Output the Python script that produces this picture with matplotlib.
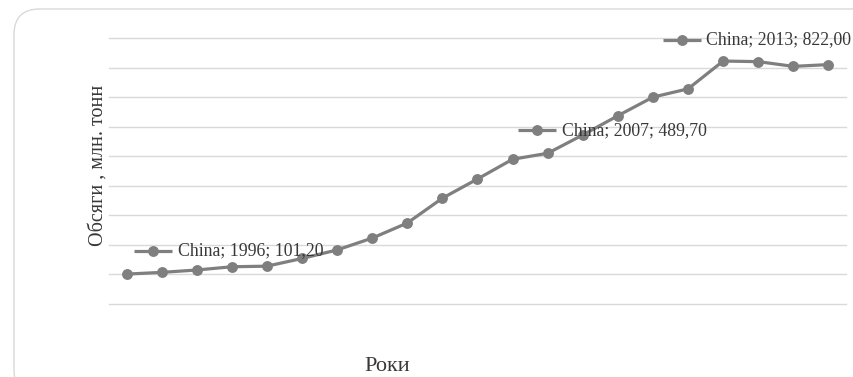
import matplotlib
matplotlib.use("Agg")
import matplotlib.pyplot as plt
from matplotlib.patches import FancyBboxPatch
from matplotlib.transforms import ScaledTranslation

# ---------------- дані ----------------
years = list(range(1996, 2017))
volumes = [101.2, 107, 115, 126, 128, 154, 183, 223, 274, 358, 423,
           489.7, 510, 572, 637, 700, 728, 822.0, 820, 804, 810]
series_name = "China"
labelled_years = [1996, 2007, 2013]
# зсуви підписів (в пунктах): центр значка, початок тексту
label_key_dx = [18.7, 17.3, -29.5]
label_dy = [16.6, 20.9, 15.1]
label_text_dx = [37.4, 35.3, -12.2]

line_color = "#7f7f7f"
grid_color = "#d9d9d9"
text_color = "#383838"
font = "Liberation Serif"

fig = plt.figure(figsize=(8.54, 3.77), dpi=100)
fig.patch.set_facecolor("white")

# рамка-картка з заокругленими кутами
card = FancyBboxPatch((14 / 854, -0.05), 1.1, 1 - 9 / 377 + 0.05,
                      boxstyle="round,pad=0,rounding_size=0.03",
                      transform=fig.transFigure, facecolor="none",
                      edgecolor="#d9d9d9", linewidth=1.0,
                      mutation_aspect=854 / 377, zorder=-1)
fig.patches.append(card)

ax = fig.add_axes([109 / 854, 1 - 304 / 377, 737 / 854, 266 / 377])
ax.set_facecolor("none")

x = list(range(len(years)))
ax.plot(x, volumes, color=line_color, lw=2.3, marker="o", ms=6.8,
        solid_capstyle="round", zorder=3)

ax.set_xlim(-0.5, len(years) - 0.5)
ax.set_ylim(0, 900)
ax.set_yticks(range(0, 1000, 100))
ax.set_xticks([])
ax.tick_params(left=False, labelleft=False)
ax.grid(axis="y", color=grid_color, lw=1.0)
for gl in ax.get_ygridlines():
    gl.set_clip_on(False)
ax.set_axisbelow(True)
for s in ax.spines.values():
    s.set_visible(False)

# підписи даних зі значком легенди
for yr, kdx, dy, tdx in zip(labelled_years, label_key_dx, label_dy, label_text_dx):
    i = years.index(yr)
    v = volumes[i]
    tr = ax.transData + ScaledTranslation(kdx / 72, dy / 72, fig.dpi_scale_trans)
    ax.plot([x[i]], [v], transform=tr, marker="_", ms=27, mew=2.3,
            color=line_color, zorder=4, clip_on=False)
    ax.plot([x[i]], [v], transform=tr, marker="o", ms=6.8,
            color=line_color, zorder=4, clip_on=False)
    txt = f"{series_name}; {yr}; {v:.2f}".replace(".", ",")
    ax.annotate(txt, xy=(x[i], v), xytext=(tdx, dy), textcoords="offset points",
                ha="left", va="center", fontsize=12.8, family=font,
                color=text_color, zorder=5, annotation_clip=False)

ax.set_ylabel("Обсяги , млн. тонн", family=font, fontsize=14.5, color=text_color)
ax.yaxis.set_label_coords(-0.002, 0.523)
ax.set_xlabel("Роки", family=font, fontsize=16, color=text_color)
ax.xaxis.set_label_coords(0.377, -0.2)

fig.savefig("out.png", dpi=100)
